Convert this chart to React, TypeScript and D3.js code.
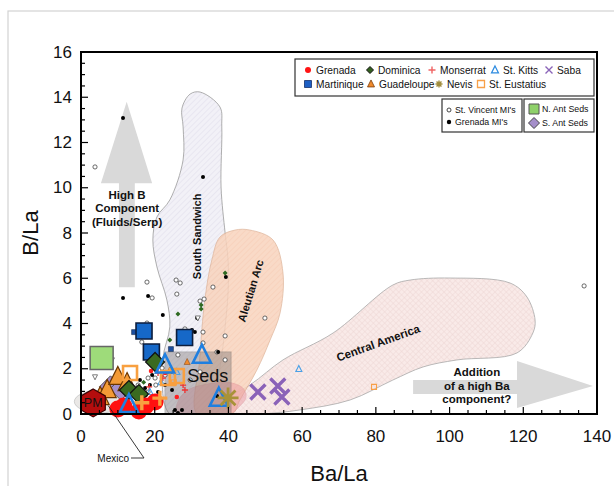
import React, { useEffect, useRef } from "react";
import * as d3 from "d3";

const W = 614;
const H = 486;
const margin = { top: 52, right: 17, bottom: 72, left: 81 };
const FONT = "'Liberation Sans', Arial, sans-serif";

const xTicks = [0, 20, 40, 60, 80, 100, 120, 140];
const yTicks = [0, 2, 4, 6, 8, 10, 12, 14, 16];

// arc fields (Ba/La, B/La outlines)
const southSandwich = [
  [32.3, 14.23], [37.7, 13.57], [38.2, 12.69], [38.0, 10.03], [39.1, 8.0], [39.9, 6.81],
  [39.9, 5.35], [39.1, 3.85], [38.3, 2.7], [37.2, 1.5], [36.1, 0], [24.1, 0], [22.2, 2.39],
  [24.1, 3.85], [23.3, 5.04], [20.6, 6.5], [19.5, 7.69], [20.6, 8.71], [24.1, 9.46],
  [27.7, 11.23], [27.7, 12.69], [27.4, 13.52], [29.6, 14.14],
];
const aleutian = [
  [37.7, 7.82], [41.8, 8.13], [45.8, 8.13], [52.1, 7.69], [54.8, 6.23], [54.0, 4.46],
  [51.3, 3.27], [47.7, 1.94], [43.1, 0.62], [41.0, 0], [31.5, 0], [32.2, 2.39],
  [33.6, 5.04], [35.5, 6.81],
];
const centralAmerica = [
  [32.3, 0], [45.8, 1.28], [54.8, 2.39], [68.4, 3.58], [84.6, 5.7], [89.3, 5.92],
  [100.1, 6.01], [116.4, 5.79], [121.0, 5.17], [123.2, 4.15], [122.6, 3.58], [118.3, 2.7],
  [102.0, 2.39], [92.8, 2.08], [84.6, 1.5], [73.0, 0.62], [59.4, 0.18], [48.6, 0],
];
const pinkField = [
  [26.0, 0], [26.5, 0.62], [29.0, 1.06], [33.6, 1.3], [39.9, 1.4], [43.9, 1.15],
  [44.8, 0.75], [42.6, 0.27], [40.4, 0],
];
const mexicoField = { cx: 5.2, cy: 0.55, rx: 7, ry: 0.5 };
const sedsBox = { x0: 22.8, y0: 0, x1: 40.7, y1: 2.74 };

const upArrow = [
  [10.3, 5.6], [14.6, 5.6], [14.6, 10.2], [19.3, 10.2], [12.4, 13.8], [5.4, 10.2], [10.3, 10.2],
];
const rightArrow = [
  [90.1, 1.5], [118.3, 1.5], [118.3, 2.34], [138.9, 1.24], [118.3, 0.27], [118.3, 0.88], [90.1, 0.88],
];

// whole rocks
const grenada = [[10.0, 0.22], [11.6, 0.35], [15.7, 0.13], [17.6, 0.35], [20.1, 0.53]];
const dominica = [[20.1, 2.3], [13.0, 1.06], [15.7, 0.88]];
const monserratOrange = [[16.5, 0.5], [21.4, 0.7]];
const stKitts = [[22.8, 2.17], [32.8, 2.6], [37.4, 0.7], [13.0, 0.42]];
const saba = [[48.0, 0.97], [53.4, 1.24], [54.5, 0.75]];
const martinique = [[17.1, 3.67], [19.1, 2.74], [28.1, 3.38]];
const guadeloupe = [[5.2, 0.75], [7.1, 1.06], [10.0, 1.64], [12.5, 1.37]];
const nevis = [[39.9, 0.71]];
const stEustatius = [[13.3, 1.81], [23.6, 1.59], [26.0, 1.68]];
const nAntSeds = [[5.6, 2.48]];
const sAntSeds = [[8.0, 1.2], [10.8, 1.1]];
const primitiveMantle = [[3.3, 0.49]];

// small symbols
const grenadaSmall = [[22.8, 1.81], [26.0, 0.75], [19.0, 1.9]];
const dominicaSmall = [[26.3, 4.42], [32.6, 4.82], [32.6, 4.64], [39.1, 6.23], [24.1, 3.27], [17.0, 1.4]];
const monserratSmall = [[20.9, 1.81], [22.2, 1.59], [27.7, 1.28], [28.2, 1.06], [18.5, 1.2]];
const stKittsSmall = [[21.7, 1.41], [26.0, 1.86], [18.7, 0.97], [59.1, 1.99]];
const martiniqueSmall = [[14.4, 3.62], [24.4, 2.87], [20.5, 2.1]];
const guadeloupeSmall = [[28.8, 2.3], [24.0, 1.9]];
const stEustatiusSmall = [[79.5, 1.2], [25.2, 1.4]];
const otherTri = [[3.8, 1.64], [8.4, 2.39], [31.7, 4.24]];
const stVincentMI = [
  [3.8, 10.92], [17.9, 5.83], [25.8, 5.92], [26.9, 5.79], [26.0, 5.3], [19.3, 5.13],
  [32.3, 4.99], [33.4, 5.08], [35.8, 5.61], [33.1, 3.62], [39.1, 3.45], [49.9, 4.24],
  [26.3, 2.61], [136.5, 5.66], [28.2, 3.76], [17.9, 4.02], [16.5, 3.18], [36.9, 2.74],
  [33.1, 3.14], [39.1, 2.39], [22.8, 1.72], [20.3, 1.28], [18.2, 1.59], [15.5, 1.28],
  [18.2, 0.97], [20.1, 1.59], [22.0, 2.03], [24.1, 1.86], [29.6, 1.5], [32.3, 1.86],
];
const grenadaMI = [
  [11.4, 13.08], [33.1, 10.48], [18.2, 5.22], [22.2, 4.38], [39.3, 6.06], [31.5, 4.24],
  [11.4, 5.13], [14.7, 3.62], [30.1, 3.71], [30.9, 3.62], [27.4, 3.58], [37.2, 2.74],
  [36.9, 0.8], [27.4, 0.18], [25.5, 0.18], [26.3, 0.04], [17.6, 0.84], [18.7, 1.28],
  [16.0, 1.5], [17.4, 1.15], [19.3, 1.72], [20.9, 0.97], [22.8, 1.28], [16.8, 0.84], [24.7, 1.06],
];

const legendRow1 = ["Grenada", "Dominica", "Monserrat", "St. Kitts", "Saba"];
const legendRow2 = ["Martinique", "Guadeloupe", "Nevis", "St. Eustatius"];

const shapes = {
  circle: (s) => d3.symbol(d3.symbolCircle, Math.PI * (s / 2) ** 2)(),
  square: (s) => `M${-s / 2},${-s / 2}h${s}v${s}h${-s}Z`,
  diamond: (s) => `M0,${-s / 2}L${s / 2},0L0,${s / 2}L${-s / 2},0Z`,
  triangle: (s) => `M0,${-s * 0.58}L${s / 2},${s * 0.42}L${-s / 2},${s * 0.42}Z`,
  triDown: (s) => `M0,${s * 0.58}L${s / 2},${-s * 0.42}L${-s / 2},${-s * 0.42}Z`,
  plus: (s) => `M${-s / 2},0H${s / 2}M0,${-s / 2}V${s / 2}`,
  cross: (s) => `M${-s / 2},${-s / 2}L${s / 2},${s / 2}M${s / 2},${-s / 2}L${-s / 2},${s / 2}`,
  star: (s) => {
    const r = s / 2;
    return d3.range(4).map((i) => {
      const a = (i * Math.PI) / 4;
      return `M${-r * Math.cos(a)},${-r * Math.sin(a)}L${r * Math.cos(a)},${r * Math.sin(a)}`;
    }).join("");
  },
  hexagon: (s) => {
    const r = s / 2;
    return d3.range(6).map((i) => {
      const a = -Math.PI / 2 + (i * Math.PI) / 3;
      return `${i ? "L" : "M"}${r * Math.cos(a)},${r * Math.sin(a)}`;
    }).join("") + "Z";
  },
};

const styles = {
  Grenada: { shape: "circle", fill: "#ff1414", stroke: "none", sw: 0 },
  Dominica: { shape: "diamond", fill: "#33601f", stroke: "#111", sw: 1 },
  Monserrat: { shape: "plus", fill: "none", stroke: "#f06464", sw: 1.4 },
  "St. Kitts": { shape: "triangle", fill: "none", stroke: "#2d8be0", sw: 1.2 },
  Saba: { shape: "cross", fill: "none", stroke: "#8a64b8", sw: 1.4 },
  Martinique: { shape: "square", fill: "#1d5fc4", stroke: "#14306b", sw: 0.8 },
  Guadeloupe: { shape: "triangle", fill: "#f08a2c", stroke: "#7a3b08", sw: 0.8 },
  Nevis: { shape: "star", fill: "none", stroke: "#a08c3c", sw: 1.4 },
  "St. Eustatius": { shape: "square", fill: "none", stroke: "#f8a048", sw: 1.3 },
};

const App = () => {
  const ref = useRef(null);

  useEffect(() => {
    const svg = d3.select(ref.current);
    svg.selectAll("*").remove();

    const x = d3.scaleLinear().domain([0, 140]).range([margin.left, W - margin.right]);
    const y = d3.scaleLinear().domain([0, 16]).range([H - margin.bottom, margin.top]);
    const line = d3.line().x((d) => x(d[0])).y((d) => y(d[1])).curve(d3.curveLinearClosed);
    const smooth = d3.line().x((d) => x(d[0])).y((d) => y(d[1])).curve(d3.curveCatmullRomClosed.alpha(0.5));

    // page frame
    svg.append("rect").attr("x", 8).attr("y", 11).attr("width", 640).attr("height", 520)
      .attr("fill", "#fff").attr("stroke", "#d2d2d2").attr("stroke-width", 1.2);

    const defs = svg.append("defs");
    const hatch = (id, bg, fg, angle, cross) => {
      const p = defs.append("pattern").attr("id", id).attr("patternUnits", "userSpaceOnUse")
        .attr("width", 4).attr("height", 4).attr("patternTransform", `rotate(${angle})`);
      p.append("rect").attr("width", 4).attr("height", 4).attr("fill", bg);
      p.append("line").attr("x1", 0).attr("y1", 0).attr("x2", 0).attr("y2", 4)
        .attr("stroke", fg).attr("stroke-width", 1);
      if (cross) p.append("line").attr("x1", 0).attr("y1", 0).attr("x2", 4).attr("y2", 0)
        .attr("stroke", fg).attr("stroke-width", 1);
    };
    hatch("hSS", "#f2f1f7", "#dedce9", 45, false);
    hatch("hAl", "#f9d4be", "#f3c2a6", 45, false);
    hatch("hCA", "#f9eae8", "#eed7d5", 45, true);
    defs.append("clipPath").attr("id", "plotClip").append("rect")
      .attr("x", x(0)).attr("y", y(16)).attr("width", x(140) - x(0)).attr("height", y(0) - y(16));

    const fields = svg.append("g").attr("clip-path", "url(#plotClip)");
    fields.append("path").datum(southSandwich).attr("d", smooth)
      .attr("fill", "url(#hSS)").attr("stroke", "#9a9a9a").attr("stroke-width", 0.8);
    fields.append("path").datum(centralAmerica).attr("d", smooth)
      .attr("fill", "url(#hCA)").attr("stroke", "#a8a8a8").attr("stroke-width", 0.8);
    fields.append("path").datum(aleutian).attr("d", smooth).attr("opacity", 0.85)
      .attr("fill", "url(#hAl)").attr("stroke", "#dcae92").attr("stroke-width", 0.8);
    fields.append("path").datum(pinkField).attr("d", smooth)
      .attr("fill", "#e8909c").attr("opacity", 0.45).attr("stroke", "#d07080").attr("stroke-width", 0.6);

    // mexico field
    svg.append("ellipse").attr("cx", x(mexicoField.cx)).attr("cy", y(mexicoField.cy))
      .attr("rx", x(mexicoField.rx) - x(0)).attr("ry", y(0) - y(mexicoField.ry))
      .attr("fill", "#eae8e6").attr("stroke", "#c4c4c4").attr("stroke-width", 0.8);

    // arrows
    svg.append("path").datum(upArrow).attr("d", line).attr("fill", "#d9d9d9");
    svg.append("path").datum(rightArrow).attr("d", line).attr("fill", "#d9d9d9");

    const label = (txt, px, py, rot, size, weight) =>
      svg.append("text").attr("transform", `translate(${px},${py}) rotate(${rot})`)
        .attr("text-anchor", "middle").attr("dominant-baseline", "central")
        .attr("font-family", FONT).attr("font-size", size).attr("font-weight", weight)
        .attr("fill", "#111").text(txt);

    ["High B", "Component", "(Fluids/Serp)"].forEach((t, i) =>
      label(t, x(12.5), y(9.68) + i * 13.5, 0, 11.5, "bold"));
    ["Addition", "of a high Ba", "component?"].forEach((t, i) =>
      label(t, x(107.4), y(1.85) + i * 13.5, 0, 11.5, "bold"));
    label("South Sandwich", x(31.5), y(7.85), -90, 11, "bold");
    label("Aleutian Arc", x(46), y(5.45), -73, 11, "bold");
    label("Central America", x(80.6), y(3.14), -20, 11.5, "bold");

    // seds box
    svg.append("rect").attr("x", x(sedsBox.x0)).attr("y", y(sedsBox.y1))
      .attr("width", x(sedsBox.x1) - x(sedsBox.x0)).attr("height", y(sedsBox.y0) - y(sedsBox.y1))
      .attr("fill", "#7d7676").attr("opacity", 0.42).attr("stroke", "#555");

    const pts = (data, shape, size, fill, stroke, sw) =>
      svg.append("g").selectAll("path").data(data).join("path")
        .attr("transform", (d) => `translate(${x(d[0])},${y(d[1])})`)
        .attr("d", shapes[shape](size)).attr("fill", fill).attr("stroke", stroke)
        .attr("stroke-width", sw).attr("stroke-linecap", "butt");

    // small symbols
    pts(stVincentMI, "circle", 4.2, "#fff", "#444", 0.8);
    pts(grenadaMI, "circle", 4, "#000", "none", 0);
    pts(dominicaSmall, "diamond", 5, "#2f6a22", "none", 0);
    pts(otherTri, "triDown", 5, "#fff", "#444", 0.7);
    pts(monserratSmall, "plus", 6, "none", "#ee3030", 1.3);
    pts(stKittsSmall, "triangle", 6, "none", "#4aa0e6", 1.1);
    pts(grenadaSmall, "circle", 4.5, "#ff2020", "none", 0);
    pts(martiniqueSmall, "square", 5, "#1d4fa0", "#0b1e3c", 0.5);
    pts(guadeloupeSmall, "triangle", 6, "#f08a2c", "#7a3b08", 0.5);
    pts(stEustatiusSmall, "square", 5, "none", "#f8a048", 1.1);

    label("Seds", x(34.4), y(1.7), 0, 18, "normal");

    // large symbols
    pts(sAntSeds, "diamond", 22, "#a58fca", "#555", 1);
    pts(guadeloupe, "triangle", 18, "#f39a36", "#6b3500", 1.2);
    pts(nAntSeds, "square", 23, "#9edb7a", "#666", 1.5);
    pts(stEustatius, "square", 14, "none", "#f8a040", 2.6);
    pts(martinique, "square", 16, "#1668c8", "#0c1d3d", 1.6);
    pts(dominica, "diamond", 19, "#3a6a20", "#111", 1.2);
    pts(grenada, "circle", 17, "#ff1010", "none", 0);
    pts(monserratOrange, "plus", 15, "none", "#f8a040", 3.4);
    pts(stKitts, "triangle", 18, "none", "#1f7fe0", 2.6);
    pts(nevis, "star", 21, "none", "#a89238", 2.8);
    pts(saba, "cross", 15, "none", "#8a62b8", 3.4);
    pts(primitiveMantle, "hexagon", 28, "#b50d0d", "#3a0000", 1.2);
    label("PM", x(primitiveMantle[0][0]), y(primitiveMantle[0][1]), 0, 12.5, "normal");

    // Mexico leader
    const mx = x(mexicoField.cx) + 8;
    const my = y(mexicoField.cy) + 4;
    svg.append("path").attr("d", `M${mx},${my}L144,458H131`).attr("fill", "none")
      .attr("stroke", "#222").attr("stroke-width", 0.9);
    svg.append("text").attr("x", 129).attr("y", 458).attr("text-anchor", "end")
      .attr("dominant-baseline", "central").attr("font-family", FONT).attr("font-size", 10)
      .attr("fill", "#111").text("Mexico");

    // frame + ticks
    const g = svg.append("g");
    g.append("rect").attr("x", x(0)).attr("y", y(16)).attr("width", x(140) - x(0))
      .attr("height", y(0) - y(16)).attr("fill", "none").attr("stroke", "#000").attr("stroke-width", 2);
    g.selectAll(".xt").data(d3.range(0, 141, 5)).join("line")
      .attr("x1", (d) => x(d)).attr("x2", (d) => x(d)).attr("y1", y(0))
      .attr("y2", (d) => y(0) - (d % 20 === 0 ? 7 : 4)).attr("stroke", "#000").attr("stroke-width", 1.2);
    g.selectAll(".yt").data(d3.range(0, 16.01, 0.5)).join("line")
      .attr("y1", (d) => y(d)).attr("y2", (d) => y(d)).attr("x1", x(0))
      .attr("x2", (d) => x(0) + (d % 2 === 0 ? 7 : 4)).attr("stroke", "#000").attr("stroke-width", 1.2);
    g.selectAll(".xl").data(xTicks).join("text")
      .attr("x", (d) => x(d)).attr("y", 436).attr("text-anchor", "middle").attr("dominant-baseline", "central")
      .attr("font-family", FONT).attr("font-size", 17).attr("fill", "#111").text((d) => d);
    g.selectAll(".yl").data(yTicks).join("text")
      .attr("x", 72).attr("y", (d) => y(d)).attr("text-anchor", "end").attr("dominant-baseline", "central")
      .attr("font-family", FONT).attr("font-size", 17).attr("fill", "#111").text((d) => d);
    svg.append("text").attr("x", (x(0) + x(140)) / 2).attr("y", 473).attr("text-anchor", "middle")
      .attr("dominant-baseline", "central").attr("font-family", FONT).attr("font-size", 22)
      .attr("fill", "#111").text("Ba/La");
    svg.append("text").attr("transform", `translate(30,${(y(0) + y(16)) / 2}) rotate(-90)`)
      .attr("text-anchor", "middle").attr("dominant-baseline", "central").attr("font-family", FONT)
      .attr("font-size", 22).attr("fill", "#111").text("B/La");

    // legends
    const lg = svg.append("g").attr("font-family", FONT).attr("fill", "#111");
    const box = (x0, y0, w, h) => lg.append("rect").attr("x", x0).attr("y", y0).attr("width", w)
      .attr("height", h).attr("fill", "#fff").attr("stroke", "#333").attr("stroke-width", 1.2);
    const item = (name, mx0, tx, yy, size, fs) => {
      const st = styles[name];
      lg.append("path").attr("transform", `translate(${mx0},${yy})`).attr("d", shapes[st.shape](size))
        .attr("fill", st.fill).attr("stroke", st.stroke).attr("stroke-width", st.sw);
      lg.append("text").attr("x", tx).attr("y", yy).attr("dominant-baseline", "central")
        .attr("font-size", fs).text(name);
    };
    box(295, 59, 299, 37);
    const row1x = [308, 370, 432, 495, 549];
    const row2x = [308, 371, 439, 481];
    legendRow1.forEach((n, i) => item(n, row1x[i], row1x[i] + 8, 70, n === "Grenada" ? 6 : 7, 10.2));
    legendRow2.forEach((n, i) => item(n, row2x[i], row2x[i] + 8, 84, 7, 10.2));

    box(442, 99, 80, 33);
    lg.append("circle").attr("cx", 449).attr("cy", 110).attr("r", 2).attr("fill", "#fff")
      .attr("stroke", "#333").attr("stroke-width", 0.9);
    lg.append("text").attr("x", 455).attr("y", 110).attr("dominant-baseline", "central")
      .attr("font-size", 8.8).text("St. Vincent MI's");
    lg.append("circle").attr("cx", 449).attr("cy", 122).attr("r", 2.2).attr("fill", "#000");
    lg.append("text").attr("x", 455).attr("y", 122).attr("dominant-baseline", "central")
      .attr("font-size", 8.8).text("Grenada MI's");

    box(524, 99, 70, 33);
    lg.append("path").attr("transform", "translate(534,109)").attr("d", shapes.square(10))
      .attr("fill", "#8fd16a").attr("stroke", "#555").attr("stroke-width", 1);
    lg.append("text").attr("x", 542).attr("y", 109).attr("dominant-baseline", "central")
      .attr("font-size", 8.8).text("N. Ant Seds");
    lg.append("path").attr("transform", "translate(534,123)").attr("d", shapes.diamond(11))
      .attr("fill", "#a58fca").attr("stroke", "#444").attr("stroke-width", 1);
    lg.append("text").attr("x", 542).attr("y", 123).attr("dominant-baseline", "central")
      .attr("font-size", 8.8).text("S. Ant Seds");
  }, []);

  return (
    <svg ref={ref} width={W} height={H}
      style={{ position: "absolute", left: 0, top: 0, background: "#fff" }} />
  );
};

export default App;
